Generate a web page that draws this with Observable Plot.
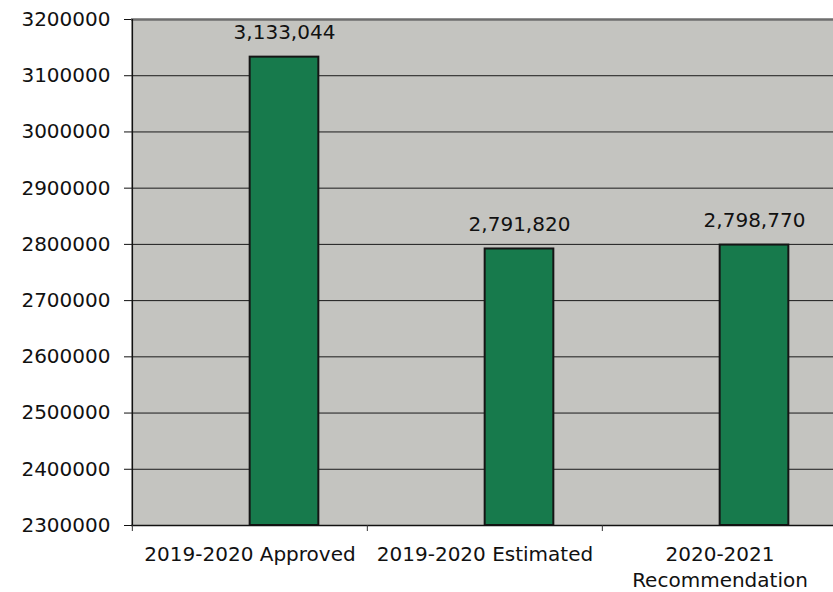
<!DOCTYPE html>
<html>
<head>
<meta charset="utf-8">
<script src="https://cdn.jsdelivr.net/npm/d3@7"></script>
<script src="https://cdn.jsdelivr.net/npm/@observablehq/plot@0.6"></script>
<style>
  html, body { margin: 0; padding: 0; background: #fff; overflow: hidden; }
  #chart svg { display: block; }
</style>
</head>
<body>
<div id="chart"></div>
<script>
const categories = ["2019-2020 Approved", "2019-2020 Estimated", "2020-2021\nRecommendation"];
const values = [3133044, 2791820, 2798770];
const valueLabels = ["3,133,044", "2,791,820", "2,798,770"];
const yTicks = [2300000, 2400000, 2500000, 2600000, 2700000, 2800000, 2900000, 3000000, 3100000, 3200000];

const data = categories.map((c, i) => ({category: c, value: values[i], label: valueLabels[i]}));

const W = 833, H = 592;
const mL = 131, mT = 19, mB = 67;
const xRight = 837;
const bw = (xRight - mL) / categories.length;
const barW = 69;
const frameH = H - mT - mB;
const font = "DejaVu Sans";

const chart = Plot.plot({
  width: W,
  height: H,
  marginLeft: mL,
  marginTop: mT,
  marginBottom: mB,
  marginRight: 0,
  style: {fontFamily: font, fontSize: "20px", background: "#fff", color: "#111"},
  x: {domain: categories, range: [mL, xRight], padding: 0, axis: null},
  y: {domain: [yTicks[0], yTicks[yTicks.length - 1]], axis: null, label: null},
  marks: [
    Plot.frame({fill: "#c4c4c0", stroke: "none"}),
    Plot.ruleY(yTicks.slice(1, -1), {stroke: "#1a1a1a", strokeWidth: 1}),
    Plot.ruleY([yTicks[yTicks.length - 1]], {stroke: "#6e6e6e", strokeWidth: 2.5}),
    Plot.barY(data, {
      x: "category", y1: yTicks[0], y2: "value",
      fill: "#177a4c", stroke: "#151515", strokeWidth: 2,
      insetLeft: bw / 2, insetRight: bw / 2 - barW
    }),
    Plot.ruleY([yTicks[0]], {stroke: "#111", strokeWidth: 1.5}),
    Plot.ruleX([categories[0]], {dx: -bw / 2, stroke: "#111", strokeWidth: 1.5}),
    Plot.ruleX(categories, {dx: -bw / 2, insetTop: frameH, insetBottom: -6, stroke: "#333", strokeWidth: 1}),
    Plot.axisY(yTicks, {tickSize: 7, tickPadding: 14, tickFormat: d => String(d), fontSize: 20, stroke: "#111", label: null}),
    Plot.text(data, {
      x: "category", y: "value", text: "label",
      dx: barW / 2, dy: -18, lineAnchor: "bottom",
      fontSize: 20, fill: "#111"
    }),
    Plot.text(data, {
      x: "category", text: "category",
      frameAnchor: "bottom", lineAnchor: "top", dy: 17, lineHeight: 1.3,
      fontSize: 20, fill: "#111"
    })
  ]
});
document.getElementById("chart").appendChild(chart);
</script>
</body>
</html>
